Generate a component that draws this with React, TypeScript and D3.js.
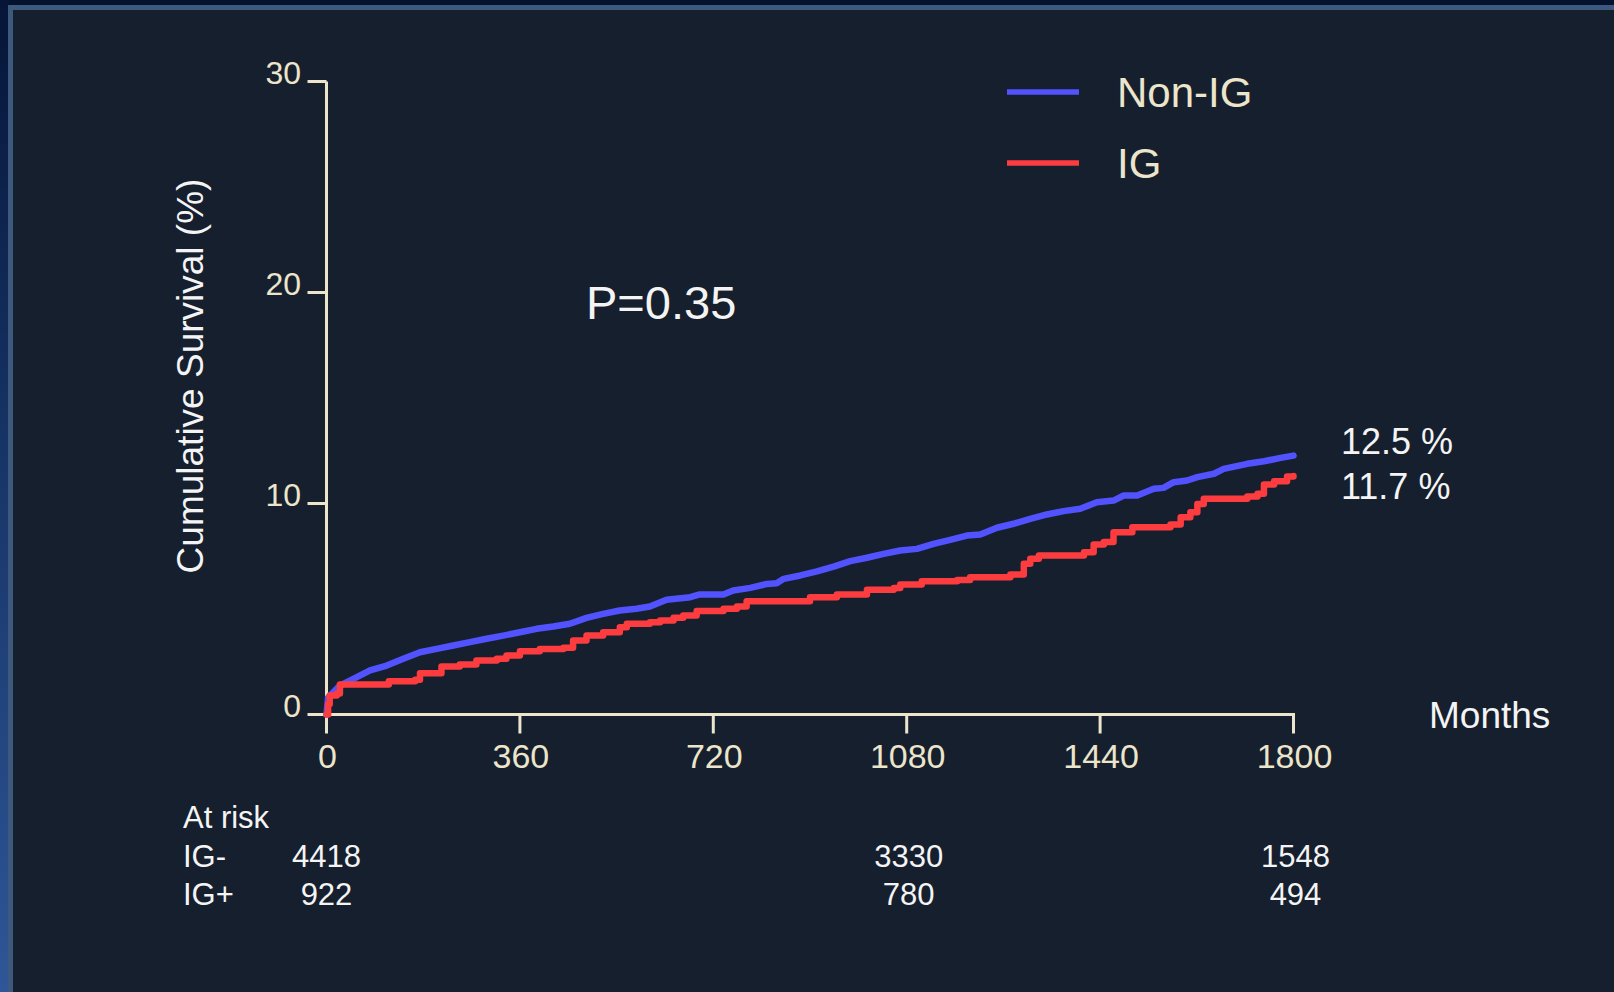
import React from "react";
import * as d3 from "d3";

// ---- data ----
const nonIGTimes = [0, 3, 25, 50, 81, 112, 143, 174, 205, 236, 267, 298, 329, 360, 391, 422, 453, 484, 515, 546, 577, 602, 633, 677, 695, 739, 757, 789, 820, 838, 851, 882, 913, 944, 975, 1006, 1037, 1068, 1099, 1130, 1161, 1192, 1217, 1248, 1279, 1310, 1341, 1372, 1403, 1434, 1465, 1484, 1509, 1540, 1558, 1577, 1602, 1621, 1652, 1670, 1714, 1745, 1776, 1800];
const nonIGValues = [0, 0.8, 1.37, 1.69, 2.09, 2.32, 2.64, 2.95, 3.11, 3.27, 3.43, 3.59, 3.74, 3.9, 4.06, 4.17, 4.3, 4.58, 4.77, 4.93, 5.01, 5.12, 5.44, 5.56, 5.69, 5.69, 5.88, 6.0, 6.19, 6.22, 6.43, 6.59, 6.78, 7.01, 7.27, 7.43, 7.61, 7.77, 7.85, 8.09, 8.28, 8.48, 8.53, 8.85, 9.04, 9.27, 9.48, 9.64, 9.75, 10.06, 10.14, 10.38, 10.38, 10.7, 10.74, 11.01, 11.09, 11.25, 11.41, 11.64, 11.88, 12.0, 12.16, 12.27];

const igTimes = [0, 3, 6, 19, 25, 116, 165, 174, 214, 248, 279, 317, 335, 360, 397, 441, 459, 484, 515, 546, 559, 602, 621, 646, 664, 689, 739, 764, 782, 900, 950, 1006, 1056, 1068, 1108, 1174, 1198, 1273, 1298, 1310, 1326, 1410, 1428, 1447, 1465, 1500, 1571, 1590, 1608, 1621, 1633, 1714, 1733, 1745, 1764, 1788, 1800];
const igValues = [0, 0.5, 0.9, 1.0, 1.42, 1.58, 1.65, 1.96, 2.27, 2.37, 2.56, 2.64, 2.8, 3.0, 3.11, 3.16, 3.51, 3.74, 3.9, 4.14, 4.3, 4.37, 4.45, 4.58, 4.69, 4.9, 5.01, 5.12, 5.37, 5.56, 5.69, 5.91, 6.0, 6.16, 6.32, 6.38, 6.51, 6.64, 7.14, 7.38, 7.54, 7.69, 8.06, 8.17, 8.64, 8.88, 9.0, 9.35, 9.59, 9.98, 10.22, 10.33, 10.46, 10.9, 11.06, 11.28, 11.3];

const xTicks = [0, 360, 720, 1080, 1440, 1800];
const yTicks = [0, 10, 20, 30];
const seriesNames = ["Non-IG", "IG"];
const seriesColors = ["#5252ff", "#fd3c40"];
const riskGroups = ["IG-", "IG+"];
const riskTimes = [0, 1080, 1800];
const riskCounts = [
  [4418, 3330, 1548],
  [922, 780, 494],
];
const endLabels = ["12.5 %", "11.7 %"];
const pValueText = "P=0.35";

const CREAM = "#ece5cb";
const WHITE = "#f4f4f4";
const FONT = "'Liberation Sans', Arial, Helvetica, sans-serif";

export default function App() {
  const W = 1614;
  const H = 992;
  const x = d3.scaleLinear().domain([0, 1800]).range([326.5, 1293.5]);
  const y = d3.scaleLinear().domain([0, 30]).range([714.5, 81.5]);

  const blueData = nonIGTimes.map((t, i) => [t, nonIGValues[i]] as [number, number]);
  const redData = igTimes.map((t, i) => [t, igValues[i]] as [number, number]);

  const lineLinear = d3
    .line<[number, number]>()
    .x((d) => x(d[0]))
    .y((d) => y(d[1]))
    .curve(d3.curveLinear);
  const lineStep = d3
    .line<[number, number]>()
    .x((d) => x(d[0]))
    .y((d) => y(d[1]))
    .curve(d3.curveStepAfter);

  const axisLeft = x.range()[0];
  const axisBottom = y.range()[0];

  return (
    <svg
      width={W}
      height={H}
      style={{ position: "absolute", left: 0, top: 0, display: "block" }}
      fontFamily={FONT}
    >
      <defs>
        <linearGradient id="leftStrip" x1="0" y1="0" x2="0" y2="1">
          <stop offset="0" stopColor="#061538" />
          <stop offset="0.45" stopColor="#163466" />
          <stop offset="1" stopColor="#2f5698" />
        </linearGradient>
      </defs>
      {/* frame */}
      <rect x={0} y={0} width={W} height={H} fill="#04122e" />
      <rect x={0} y={0} width={9} height={H} fill="url(#leftStrip)" />
      <rect x={8} y={5} width={W - 8} height={H - 5} fill="#3d5a7e" />
      <rect x={13} y={10} width={W - 13} height={H - 10} fill="#161f2d" />

      {/* axes */}
      <g stroke={CREAM} strokeWidth={3} fill="none">
        <line x1={axisLeft} y1={y(30)} x2={axisLeft} y2={axisBottom + 1.5} />
        <line x1={axisLeft - 1.5} y1={axisBottom} x2={x(1800) + 1.5} y2={axisBottom} />
        {yTicks.map((v) => (
          <line key={"yt" + v} x1={axisLeft - 19} y1={y(v)} x2={axisLeft} y2={y(v)} />
        ))}
        {xTicks.map((t) => (
          <line key={"xt" + t} x1={x(t)} y1={axisBottom} x2={x(t)} y2={axisBottom + 19} />
        ))}
      </g>
      {yTicks.map((v) => (
        <text key={"yl" + v} x={301} y={y(v) + 2} textAnchor="end" fontSize={32} fill={CREAM}>
          {v}
        </text>
      ))}
      {xTicks.map((t) => (
        <text key={"xl" + t} x={x(t) + 1} y={768} textAnchor="middle" fontSize={34} fill={CREAM}>
          {t}
        </text>
      ))}

      {/* y label */}
      <text
        transform={`translate(203,376) rotate(-90)`}
        textAnchor="middle"
        fontSize={37}
        fill={WHITE}
      >
        Cumulative Survival (%)
      </text>

      {/* curves */}
      <path
        d={lineLinear(blueData) || ""}
        fill="none"
        stroke={seriesColors[0]}
        strokeWidth={6.5}
        strokeLinejoin="round"
        strokeLinecap="round"
      />
      <path
        d={lineStep(redData) || ""}
        fill="none"
        stroke={seriesColors[1]}
        strokeWidth={6.5}
        strokeLinejoin="round"
        strokeLinecap="round"
      />

      {/* legend */}
      {seriesNames.map((name, i) => (
        <g key={name}>
          <line
            x1={1007}
            x2={1079}
            y1={92 + i * 71}
            y2={92 + i * 71}
            stroke={seriesColors[i]}
            strokeWidth={5.5}
          />
          <text x={1117} y={107 + i * 71} fontSize={42} fill={CREAM}>
            {name}
          </text>
        </g>
      ))}

      {/* annotations */}
      <text x={586} y={319} fontSize={47} fill={WHITE}>
        {pValueText}
      </text>
      {endLabels.map((l, i) => (
        <text key={l} x={1341} y={454 + i * 45} fontSize={36} fill={WHITE}>
          {l}
        </text>
      ))}
      <text x={1429} y={728} fontSize={37} fill={WHITE}>
        Months
      </text>

      {/* at risk table */}
      <text x={183} y={828} fontSize={31} fill={WHITE}>
        At risk
      </text>
      {riskGroups.map((g, gi) => (
        <g key={g}>
          <text x={183} y={867 + gi * 37.5} fontSize={31} fill={WHITE}>
            {g}
          </text>
          {riskTimes.map((t, ti) => (
            <text
              key={g + t}
              x={x(t) + (ti === 0 ? 0 : 2)}
              y={867 + gi * 37.5}
              textAnchor="middle"
              fontSize={31}
              fill={WHITE}
            >
              {riskCounts[gi][ti]}
            </text>
          ))}
        </g>
      ))}
    </svg>
  );
}
